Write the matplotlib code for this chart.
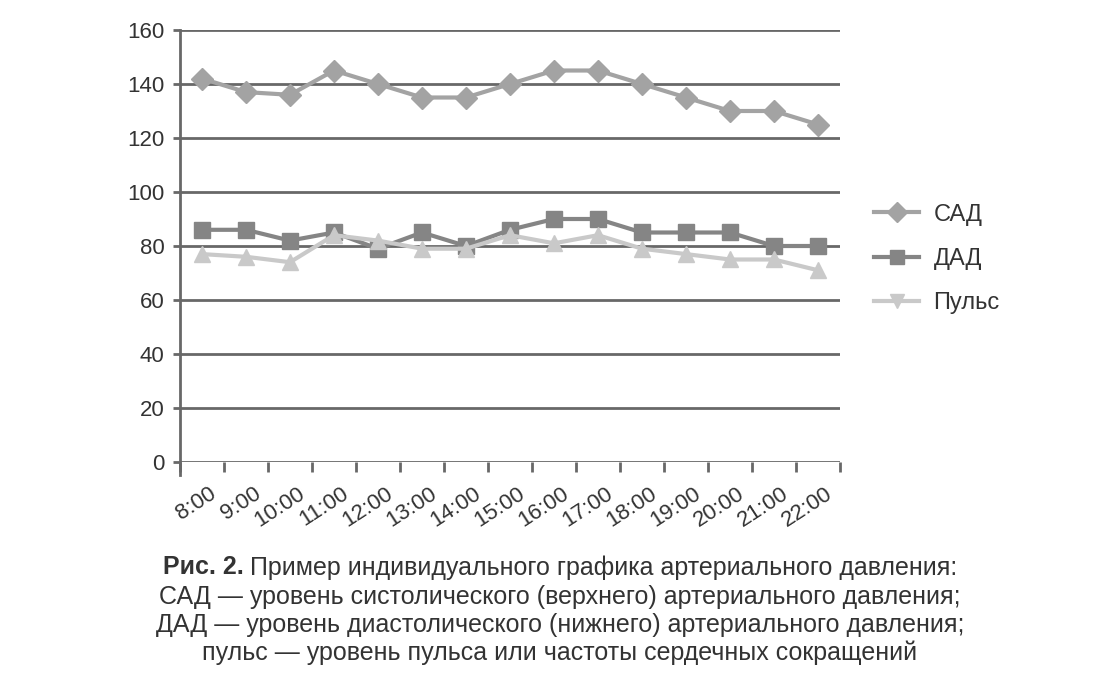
import numpy as np
import matplotlib
matplotlib.use('Agg')
import matplotlib.pyplot as plt
import matplotlib.transforms as mtransforms
from matplotlib.lines import Line2D

# Datos
horas = ['8:00', '9:00', '10:00', '11:00', '12:00', '13:00', '14:00', '15:00',
         '16:00', '17:00', '18:00', '19:00', '20:00', '21:00', '22:00']
sad = [142, 137, 136, 145, 140, 135, 135, 140, 145, 145, 140, 135, 130, 130, 125]
dad = [86, 86, 82, 85, 79, 85, 80, 86, 90, 90, 85, 85, 85, 80, 80]
pulso = [77, 76, 74, 84, 82, 79, 79, 84, 81, 84, 79, 77, 75, 75, 71]

yticks = [0, 20, 40, 60, 80, 100, 120, 140, 160]

c_sad = '#a3a3a3'
c_dad = '#858585'
c_pul = '#c9c9c9'
c_grid = '#686868'
c_txt = '#333333'

plt.rcParams['font.family'] = ['Liberation Sans', 'DejaVu Sans']

fig = plt.figure(figsize=(11.2, 6.82), dpi=100)
ax = fig.add_axes([0.1607, 0.3226, 0.5893, 0.6334])

x = np.arange(len(horas))

ax.plot(x, sad, color=c_sad, lw=3, marker='D', ms=11, mfc=c_sad, mec=c_sad, zorder=3)
ax.plot(x, dad, color=c_dad, lw=3, marker='s', ms=11, mfc=c_dad, mec=c_dad, zorder=4)
ax.plot(x, pulso, color=c_pul, lw=3, marker='^', ms=12, mfc=c_pul, mec=c_pul, zorder=5)

ax.set_xlim(-0.5, len(horas) - 0.5)
ax.set_ylim(0, 160)
ax.set_yticks(yticks)
ax.yaxis.grid(True, color=c_grid, lw=2)
ax.set_axisbelow(True)

for s in ['top', 'right']:
    ax.spines[s].set_visible(False)
ax.spines['left'].set_color(c_grid)
ax.spines['left'].set_linewidth(2)
ax.spines['left'].set_bounds(-5, 160)
ax.spines['bottom'].set_visible(False)

# marcas del eje x en los limites de cada categoria
ax.set_xticks(np.arange(-0.5, len(horas), 1.0), minor=True)
ax.set_xticks(x)
ax.set_xticklabels(horas, rotation=33, ha='right', rotation_mode='anchor')
ax.tick_params(axis='x', which='major', length=0, pad=15, labelsize=16, labelcolor=c_txt)
ax.tick_params(axis='x', which='minor', length=7, width=2, color=c_grid, direction='out')
ax.tick_params(axis='y', length=5, width=2, color=c_grid, labelsize=16, labelcolor=c_txt, pad=6)
# corro un poco las etiquetas hacia la derecha
desplazo = mtransforms.ScaledTranslation(7 / 100, 0, fig.dpi_scale_trans)
for lab in ax.get_xticklabels():
    lab.set_transform(lab.get_transform() + desplazo)

handles = [
    Line2D([], [], color=c_sad, lw=3, marker='D', ms=10, mfc=c_sad, mec=c_sad),
    Line2D([], [], color=c_dad, lw=3, marker='s', ms=10, mfc=c_dad, mec=c_dad),
    Line2D([], [], color=c_pul, lw=3, marker='v', ms=10, mfc=c_pul, mec=c_pul),
]
leg = ax.legend(handles, ['САД', 'ДАД', 'Пульс'], loc='center left',
                bbox_to_anchor=(1.02, 0.47), frameon=False, fontsize=17,
                labelspacing=0.95, handlelength=1.9, handletextpad=0.6,
                labelcolor=c_txt)

# Subtitulo: "Рис. 2." en negrita y el resto normal
fig.canvas.draw()
renderer = fig.canvas.get_renderer()
t1 = fig.text(0, 0.168, 'Рис. 2. ', ha='left', va='center', fontsize=18,
              fontweight='bold', color=c_txt)
t2 = fig.text(0, 0.168, 'Пример индивидуального графика артериального давления:',
              ha='left', va='center', fontsize=18, color=c_txt)
w1 = t1.get_window_extent(renderer).width / fig.bbox.width
w2 = t2.get_window_extent(renderer).width / fig.bbox.width
x0 = 0.5 - (w1 + w2) / 2
t1.set_x(x0)
t2.set_x(x0 + w1)

caption = ['САД — уровень систолического (верхнего) артериального давления;',
           'ДАД — уровень диастолического (нижнего) артериального давления;',
           'пульс — уровень пульса или частоты сердечных сокращений']
for i, linea in enumerate(caption):
    fig.text(0.5, 0.125 - i * 0.041, linea, ha='center', va='center', fontsize=18, color=c_txt)

plt.savefig('out.png', dpi=100)
